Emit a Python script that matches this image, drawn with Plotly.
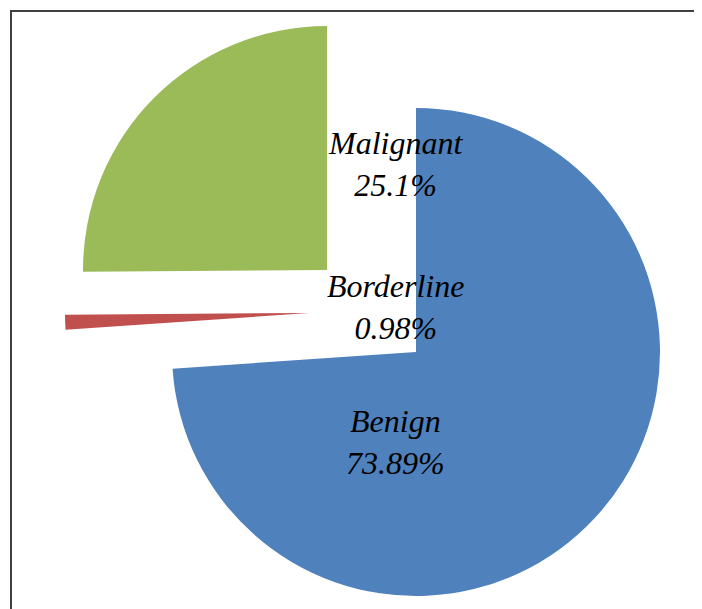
import plotly.graph_objects as go

# ---- data ----
labels = ["Benign", "Borderline", "Malignant"]
values = [73.89, 0.98, 25.1]
pct_labels = ["73.89%", "0.98%", "25.1%"]
colors = ["#4F81BD", "#C0504D", "#9BBB59"]

# ---- layout geometry (pixels, page has an 8px body offset) ----
W, H = 702, 609
OFF = 8
R = 244
# centre of each exploded slice (in screen pixels)
centers = {"Benign": (416, 352), "Borderline": (309, 313), "Malignant": (327, 270)}
# label block centres (in screen pixels)
label_pos = {"Benign": (395, 442), "Borderline": (395, 307), "Malignant": (395, 164)}

fig = go.Figure()
for i, lab in enumerate(labels):
    cx, cy = centers[lab]
    cx -= OFF
    cy -= OFF
    cols = [colors[j] if j == i else "rgba(0,0,0,0)" for j in range(len(labels))]
    fig.add_trace(go.Pie(
        labels=labels,
        values=values,
        sort=False,
        direction="clockwise",
        rotation=0,
        marker=dict(colors=cols, line=dict(width=0)),
        textinfo="none",
        hoverinfo="label+percent",
        showlegend=False,
        domain=dict(x=[(cx - R) / W, (cx + R) / W],
                    y=[1 - (cy + R) / H, 1 - (cy - R) / H]),
    ))

for lab, pct in zip(labels, pct_labels):
    x, y = label_pos[lab]
    x -= OFF
    y -= OFF
    fig.add_annotation(
        x=x / W, y=1 - y / H, xref="paper", yref="paper",
        text=f"<i>{lab}</i><br><i>{pct}</i>",
        showarrow=False, xanchor="center", yanchor="middle",
        font=dict(family="Liberation Serif", size=32, color="#000000"),
        align="center",
    )

# chart frame (left and top edges visible)
fx, fy = 11 - OFF, 11 - OFF
fig.add_shape(type="line", xref="paper", yref="paper",
              x0=fx / W, x1=fx / W, y0=0, y1=1 - fy / H,
              line=dict(color="#404040", width=2))
fig.add_shape(type="line", xref="paper", yref="paper",
              x0=(fx - 1) / W, x1=1, y0=1 - fy / H, y1=1 - fy / H,
              line=dict(color="#404040", width=2))

fig.update_layout(
    width=W, height=H,
    margin=dict(l=0, r=0, t=0, b=0),
    paper_bgcolor="white", plot_bgcolor="white",
    showlegend=False,
)

fig.write_html("out.html")
